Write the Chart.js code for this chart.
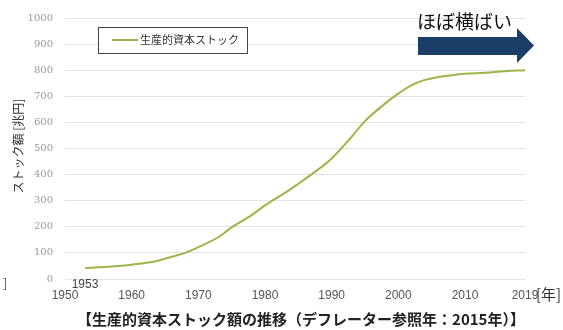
<!DOCTYPE html>
<html><head><meta charset="utf-8">
<script src="https://cdn.jsdelivr.net/npm/chart.js@4"></script>
<style>html,body{margin:0;padding:0;background:#fff}#w{width:563px;height:330px}</style>
</head><body><div id="w"><canvas id="c" width="563" height="330"></canvas></div>
<script>
const years = [1953,1955,1958,1960,1963,1965,1968,1970,1973,1975,1978,1980,1983,1985,1988,1990,1993,1995,1998,2000,2002,2004,2006,2008,2010,2013,2016,2019];
const stock = [42,45,50,55,65,78,100,122,160,198,245,282,330,365,420,462,545,605,672,710,743,763,774,781,786,790,796,800];
const xTicks = [1950,1960,1970,1980,1990,2000,2010,2019];
const seriesName = '生産的資本ストック';
const yTitle = 'ストック額 [兆円]';
const chartTitle = '【生産的資本ストック額の推移（デフレーター参照年：2015年）】';
const note = 'ほぼ横ばい';
const JP = '"Noto Sans CJK JP","Noto Sans",sans-serif';

const deco = {
  id: 'deco',
  afterDraw(chart) {
    const ctx = chart.ctx, xs = chart.scales.x;
    ctx.save();
    // legend box
    ctx.strokeStyle = '#444'; ctx.lineWidth = 1;
    ctx.fillStyle = '#fff';
    ctx.fillRect(98.5, 27.5, 149, 26);
    ctx.strokeRect(98.5, 27.5, 149, 26);
    ctx.strokeStyle = '#9bb548'; ctx.lineWidth = 2;
    ctx.beginPath(); ctx.moveTo(112, 40); ctx.lineTo(138, 40); ctx.stroke();
    ctx.fillStyle = '#333'; ctx.font = '11px ' + JP;
    ctx.textBaseline = 'middle'; ctx.textAlign = 'left';
    ctx.fillText(seriesName, 140, 40);
    // arrow
    ctx.fillStyle = '#1b3e69';
    ctx.beginPath();
    ctx.moveTo(418, 37); ctx.lineTo(517, 37); ctx.lineTo(517, 28);
    ctx.lineTo(534, 45.5); ctx.lineTo(517, 63); ctx.lineTo(517, 55);
    ctx.lineTo(418, 55); ctx.closePath(); ctx.fill();
    ctx.fillStyle = '#111'; ctx.font = '19px ' + JP;
    ctx.textAlign = 'left'; ctx.textBaseline = 'middle';
    ctx.fillText(note, 417, 22);
    // 1953 label
    ctx.fillStyle = '#444'; ctx.font = '12px "Liberation Sans",sans-serif';
    ctx.textAlign = 'center';
    ctx.fillText(String(years[0]), xs.getPixelForValue(years[0]), 285);
    // [年]
    ctx.font = '15px ' + JP; ctx.textAlign = 'left'; ctx.fillStyle = '#333';
    ctx.fillText('[年]', 536, 294);
    // stray bracket at left
    ctx.font = '13px ' + JP; ctx.fillStyle = '#555';
    ctx.fillText(']', 3, 283);
    // y title
    ctx.save();
    ctx.translate(18, 146); ctx.rotate(-Math.PI/2);
    ctx.textAlign = 'center'; ctx.font = '12px ' + JP; ctx.fillStyle = '#333';
    ctx.fillText(yTitle, 0, 0);
    ctx.restore();
    // bottom title
    ctx.font = 'bold 15px ' + JP; ctx.fillStyle = '#222'; ctx.textAlign = 'center';
    ctx.fillText(chartTitle, 301, 319);
    ctx.restore();
  }
};

new Chart(document.getElementById('c'), {
  type: 'line',
  data: { datasets: [{
    label: seriesName,
    data: years.map((y, i) => ({x: y, y: stock[i]})),
    borderColor: '#9bb548', borderWidth: 2, pointRadius: 0,
    tension: 0.4, fill: false
  }]},
  options: {
    responsive: false, animation: false, devicePixelRatio: 1,
    layout: { padding: { top: 13, right: 38, left: 0, bottom: 0 } },
    plugins: { legend: { display: false }, tooltip: { enabled: false } },
    scales: {
      x: {
        type: 'linear', min: 1950, max: 2019,
        afterBuildTicks: s => { s.ticks = xTicks.map(v => ({value: v})); },
        afterFit: s => { s.height = 51; },
        grid: { display: false, drawTicks: false },
        border: { display: true, color: '#e4e4e4' },
        ticks: { padding: 9, color: '#555', font: { size: 12, family: '"Liberation Sans",sans-serif' },
                 maxRotation: 0, autoSkip: false, callback: v => String(v) }
      },
      y: {
        min: 0, max: 1000,
        afterFit: s => { s.width = 65; },
        grid: { color: '#e2e2e2', drawTicks: false },
        border: { display: false },
        ticks: { stepSize: 100, padding: 12, color: '#999', font: { size: 10, family: '"DejaVu Serif",serif' },
                 callback: v => String(v) }
      }
    }
  },
  plugins: [deco]
});
</script></body></html>
